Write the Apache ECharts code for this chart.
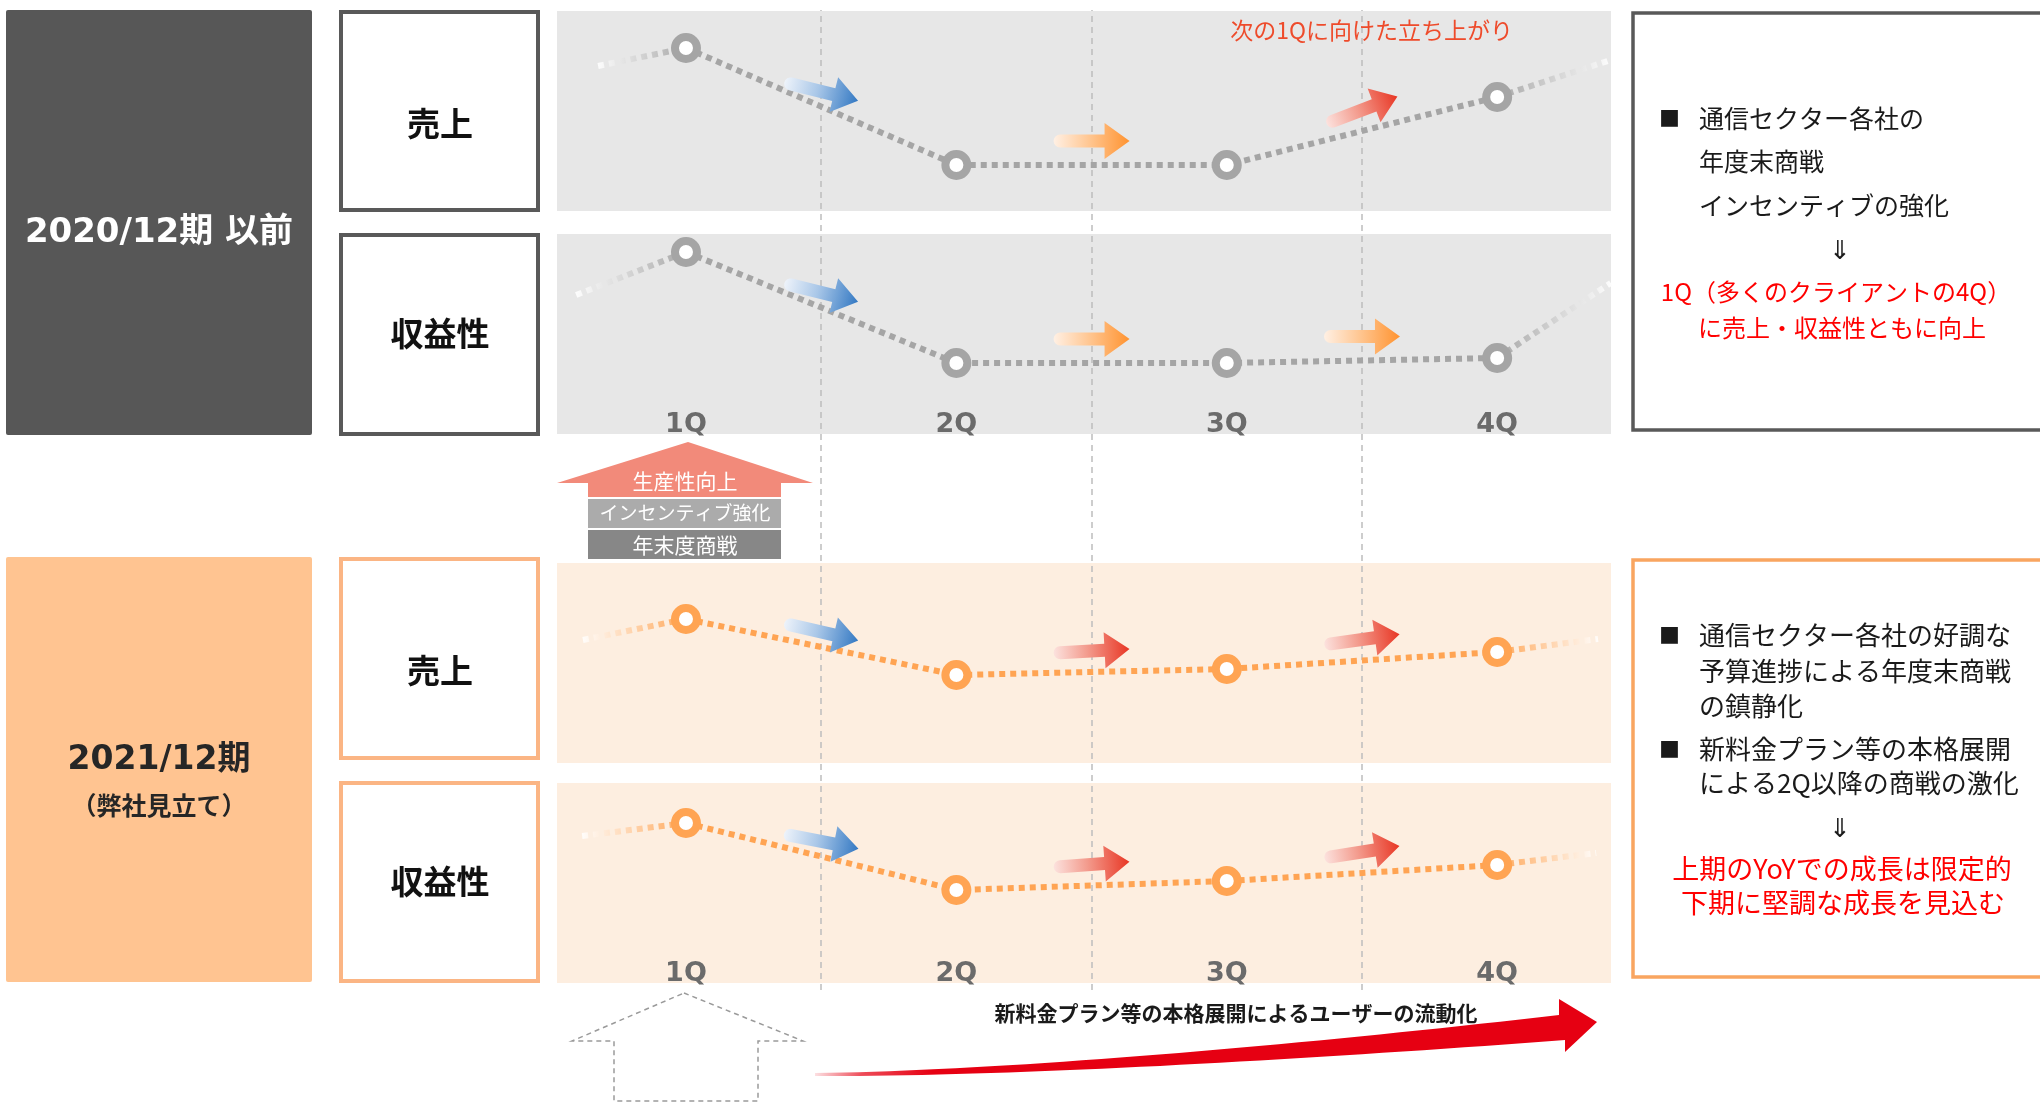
<!DOCTYPE html>
<html>
<head>
<meta charset="utf-8">
<script src="https://cdn.jsdelivr.net/npm/echarts@6/dist/echarts.min.js"></script>
<style>
  html, body { margin: 0; padding: 0; background: #ffffff; }
  #chart { width: 2040px; height: 1103px; }
</style>
</head>
<body>
<div id="chart"></div>
<script>
// ---- data ---------------------------------------------------------------
const quarters = ['1Q', '2Q', '3Q', '4Q'];

// relative level per quarter (0 = bottom of the panel, 100 = top)
const sales2020  = [81.5, 23, 23, 57];
const profit2020 = [91, 35.5, 35.5, 38];
const sales2021  = [72, 44, 47, 55.5];
const profit2021 = [80, 46.5, 51, 59];

// level carried in from the previous 4Q and handed on to the next 1Q
const sales2020Edges  = [72.5, 75.5];
const profit2020Edges = [69.5, 75.5];
const sales2021Edges  = [61.5, 62];
const profit2021Edges = [73.5, 65];

// where those carried levels sit on the quarter scale
const sales2020EdgeX  = [0.675, 4.42];
const profit2020EdgeX = [0.594, 4.42];
const sales2021EdgeX  = [0.619, 4.373];
const profit2021EdgeX = [0.616, 4.366];

// direction of each quarter-to-quarter step
const sales2020Trend  = ['down', 'flat', 'up'];
const profit2020Trend = ['down', 'flat', 'flat'];
const sales2021Trend  = ['down', 'up', 'up'];
const profit2021Trend = ['down', 'up', 'up'];

// ---- styling ------------------------------------------------------------
const JP = "'Noto Sans CJK JP', 'Noto Sans', sans-serif";
const LATIN = "'DejaVu Sans', 'Noto Sans CJK JP', sans-serif";
const X_MIN = 0.523, X_MAX = 4.421;
const PANEL_LEFT = 557, PANEL_WIDTH = 1054, PANEL_HEIGHT = 200;

// tilt of each trend arrow, degrees (positive = pointing upward)
const ARROW_TILT = {
  sales2020:  [-14, 0, 21],
  profit2020: [-14, 0, 0],
  sales2021:  [-13, 3, 8],
  profit2021: [-11, 4, 9]
};
const ARROW_STYLE = {
  down: { lift: 15, stops: [{ offset: 0, color: '#EEF3FA' }, { offset: 0.45, color: '#A9C7E8' }, { offset: 1, color: '#3479C3' }] },
  flat: { lift: 24, stops: [{ offset: 0, color: '#FFF0E4' }, { offset: 0.45, color: '#FFC895' }, { offset: 1, color: '#FF9330' }] },
  up:   { lift: 21, stops: [{ offset: 0, color: '#FCE2DE' }, { offset: 0.45, color: '#F39A8C' }, { offset: 1, color: '#E83624' }] }
};

const panels = [
  { key: 'sales2020',  values: sales2020,  edges: sales2020Edges,  edgeX: sales2020EdgeX,  trend: sales2020Trend,  top: 11,  bg: '#E7E7E7', color: '#A5A5A5', labels: false },
  { key: 'profit2020', values: profit2020, edges: profit2020Edges, edgeX: profit2020EdgeX, trend: profit2020Trend, top: 234, bg: '#E7E7E7', color: '#A5A5A5', labels: true },
  { key: 'sales2021',  values: sales2021,  edges: sales2021Edges,  edgeX: sales2021EdgeX,  trend: sales2021Trend,  top: 563, bg: '#FDEEE0', color: '#FFA453', labels: false },
  { key: 'profit2021', values: profit2021, edges: profit2021Edges, edgeX: profit2021EdgeX, trend: profit2021Trend, top: 783, bg: '#FDEEE0', color: '#FFA453', labels: true }
];

// block arrow outline with a rounded tail, centred on the origin, pointing right
function arrowPoints(len, shaft, head, headLen) {
  const h = len / 2, t = shaft / 2, w = head / 2;
  const pts = [[-h + t, -t], [h - headLen, -t], [h - headLen, -w], [h, 0],
               [h - headLen, w], [h - headLen, t], [-h + t, t]];
  for (let a = 1; a < 8; a++) {
    const ang = Math.PI / 2 + a * Math.PI / 8;
    pts.push([-h + t + t * Math.cos(ang), t * Math.sin(ang)]);
  }
  return pts;
}
const ARROW_SHAPE = arrowPoints(76, 13, 36, 25);

// ---- grids / axes / series ----------------------------------------------
const grid = panels.map(p => ({
  left: PANEL_LEFT, top: p.top, width: PANEL_WIDTH, height: PANEL_HEIGHT,
  show: true, backgroundColor: p.bg, borderWidth: 0
}));
grid.push({ left: PANEL_LEFT, top: 10, width: PANEL_WIDTH, height: 980, show: false });

const xAxis = panels.map((p, i) => ({
  type: 'value', gridIndex: i, min: X_MIN, max: X_MAX,
  axisLine: { show: false }, axisTick: { show: false }, splitLine: { show: false },
  axisLabel: p.labels ? {
    show: true, inside: true, margin: -4, customValues: [1, 2, 3, 4],
    formatter: v => quarters[Math.round(v) - 1],
    color: '#6B6B6B', fontSize: 27, fontWeight: 'bold', fontFamily: LATIN, lineHeight: 27
  } : { show: false }
}));
xAxis.push({ type: 'value', gridIndex: 4, min: X_MIN, max: X_MAX, show: false });

const yAxis = panels.map((p, i) => ({ type: 'value', gridIndex: i, min: 0, max: 100, show: false }));
yAxis.push({ type: 'value', gridIndex: 4, min: 0, max: 1, show: false });

const series = [];
panels.forEach((p, i) => {
  const fadeIn = new echarts.graphic.LinearGradient(0, 0, 1, 0, [
    { offset: 0, color: '#FFFFFF' }, { offset: 1, color: p.color }]);
  const fadeOut = new echarts.graphic.LinearGradient(0, 0, 1, 0, [
    { offset: 0, color: p.color }, { offset: 1, color: '#FFFFFF' }]);
  const dotted = { width: 6, type: [6, 5], cap: 'butt' };

  series.push({
    type: 'line', xAxisIndex: i, yAxisIndex: i, silent: true, z: 4, symbol: 'none',
    data: [[p.edgeX[0], p.edges[0]], [1, p.values[0]]],
    lineStyle: Object.assign({ color: fadeIn }, dotted)
  });
  series.push({
    type: 'line', xAxisIndex: i, yAxisIndex: i, silent: true, z: 4, symbol: 'none',
    data: [[4, p.values[3]], [p.edgeX[1], p.edges[1]]],
    lineStyle: Object.assign({ color: fadeOut }, dotted)
  });
  series.push({
    type: 'line', xAxisIndex: i, yAxisIndex: i, silent: true, z: 5,
    data: p.values.map((v, k) => [k + 1, v]),
    symbol: 'circle', symbolSize: 22, showSymbol: true,
    lineStyle: Object.assign({ color: p.color }, dotted),
    itemStyle: { color: '#FFFFFF', borderColor: p.color, borderWidth: 8 }
  });
  const tilt = ARROW_TILT[p.key];
  series.push({
    type: 'custom', xAxisIndex: i, yAxisIndex: i, silent: true, z: 6,
    data: p.trend.map((t, k) => [k + 1.5, (p.values[k] + p.values[k + 1]) / 2, k]),
    renderItem(params, api) {
      const k = api.value(2);
      const c = api.coord([api.value(0), api.value(1)]);
      const st = ARROW_STYLE[p.trend[k]];
      return {
        type: 'group', x: c[0], y: c[1] - st.lift, rotation: tilt[k] * Math.PI / 180,
        children: [{
          type: 'polygon', shape: { points: ARROW_SHAPE },
          style: { fill: new echarts.graphic.LinearGradient(0, 0, 1, 0, st.stops) }
        }]
      };
    }
  });
});

// quarter dividers running through all four panels
series.push({
  type: 'line', xAxisIndex: 4, yAxisIndex: 4, silent: true, z: 3,
  data: [[1, -1]], symbol: 'none', lineStyle: { opacity: 0 },
  markLine: {
    silent: true, symbol: ['none', 'none'], label: { show: false },
    lineStyle: { color: '#BDBDBD', width: 1.5, type: [6, 5] },
    data: [1.5, 2.5, 3.5].map(x => ({ xAxis: x }))
  }
});

// ---- framing boxes and annotations -------------------------------------
function rect(x, y, w, h, style, r) {
  return { type: 'rect', shape: { x, y, width: w, height: h, r: r || 0 }, style, z: 1 };
}
function text(x, y, str, opt) {
  return {
    type: 'text', x, y, z: 20,
    style: Object.assign({ text: str, fontFamily: JP, fontSize: 25, fill: '#1A1A1A',
      align: 'left', verticalAlign: 'middle' }, opt || {})
  };
}
function cubic(p0, p1, p2, p3, n) {
  const out = [];
  for (let i = 0; i <= n; i++) {
    const t = i / n, u = 1 - t;
    out.push([
      u * u * u * p0[0] + 3 * u * u * t * p1[0] + 3 * u * t * t * p2[0] + t * t * t * p3[0],
      u * u * u * p0[1] + 3 * u * u * t * p1[1] + 3 * u * t * t * p2[1] + t * t * t * p3[1]
    ]);
  }
  return out;
}
const swoosh = cubic([815, 1073], [1000, 1071], [1300, 1045], [1559, 1015], 40)
  .concat([[1559, 999], [1597, 1022], [1565, 1052]])
  .concat(cubic([1565, 1040], [1300, 1060], [1000, 1077], [815, 1076], 40));

const greyBorder = { fill: '#FFFFFF', stroke: '#595959', lineWidth: 4 };
const orangeBorder = { fill: '#FFFFFF', stroke: '#FBB584', lineWidth: 4 };
const bottomBox = { fontSize: 26 };
const redBottom = { fontSize: 27, fill: '#FF0000', align: 'center' };

const elements = [
  // period blocks
  rect(6, 10, 306, 425, { fill: '#575757' }, 2),
  text(159, 233, '2020/12期 以前', { fontFamily: LATIN, fontSize: 34, fontWeight: 'bold', fill: '#FFFFFF', align: 'center' }),
  rect(6, 557, 306, 425, { fill: '#FFC491' }, 2),
  text(159, 760, '2021/12期', { fontFamily: LATIN, fontSize: 33, fontWeight: 'bold', fill: '#262626', align: 'center' }),
  text(159, 805, '（弊社見立て）', { fontSize: 25, fontWeight: 'bold', fill: '#262626', align: 'center' }),

  // metric name boxes
  rect(341, 12, 197, 198, greyBorder),
  text(440, 123, '売上', { fontSize: 33, fontWeight: 'bold', fill: '#111111', align: 'center' }),
  rect(341, 235, 197, 199, greyBorder),
  text(440, 333, '収益性', { fontSize: 33, fontWeight: 'bold', fill: '#111111', align: 'center' }),
  rect(341, 559, 197, 199, orangeBorder),
  text(440, 670, '売上', { fontSize: 33, fontWeight: 'bold', fill: '#111111', align: 'center' }),
  rect(341, 783, 197, 198, orangeBorder),
  text(440, 881, '収益性', { fontSize: 33, fontWeight: 'bold', fill: '#111111', align: 'center' }),

  // commentary boxes
  rect(1633, 13, 500, 417, { fill: '#FFFFFF', stroke: '#595959', lineWidth: 3.5 }),
  text(1659, 118, '■', { fontSize: 21 }),
  text(1699, 118, '通信セクター各社の'),
  text(1699, 161, '年度末商戦'),
  text(1699, 205, 'インセンティブの強化'),
  text(1840, 249, '⇓', { fontSize: 26, align: 'center' }),
  text(1836, 292, '1Q（多くのクライアントの4Q）', { fontSize: 24, fill: '#FF0000', align: 'center' }),
  text(1842, 328, 'に売上・収益性ともに向上', { fontSize: 24, fill: '#FF0000', align: 'center' }),

  rect(1633, 560, 500, 417, { fill: '#FFFFFF', stroke: '#F9A560', lineWidth: 3.5 }),
  text(1659, 635, '■', { fontSize: 21 }),
  text(1699, 635, '通信セクター各社の好調な', bottomBox),
  text(1699, 671, '予算進捗による年度末商戦', bottomBox),
  text(1699, 706, 'の鎮静化', bottomBox),
  text(1659, 749, '■', { fontSize: 21 }),
  text(1699, 749, '新料金プラン等の本格展開', bottomBox),
  text(1699, 783, 'による2Q以降の商戦の激化', bottomBox),
  text(1840, 827, '⇓', { fontSize: 26, align: 'center' }),
  text(1842, 869, '上期のYoYでの成長は限定的', redBottom),
  text(1843, 903, '下期に堅調な成長を見込む', redBottom),

  // note above the 2020 sales panel
  text(1513, 30, '次の1Qに向けた立ち上がり', { fontSize: 23, fill: '#EE4B2B', align: 'right' }),

  // drivers of the 1Q lift
  { type: 'polygon', z: 8, shape: { points: [[688, 442], [813, 483], [781, 483], [781, 497], [588, 497], [588, 483], [557, 483]] },
    style: { fill: '#F28A7A' } },
  text(685, 481, '生産性向上', { fontSize: 21, fill: '#FFFFFF', align: 'center' }),
  Object.assign(rect(588, 499, 193, 29, { fill: '#ABABAB' }), { z: 8 }),
  text(685, 513, 'インセンティブ強化', { fontSize: 19, fill: '#FFFFFF', align: 'center' }),
  Object.assign(rect(588, 530, 193, 29, { fill: '#878787' }), { z: 8 }),
  text(685, 545, '年末度商戦', { fontSize: 21, fill: '#FFFFFF', align: 'center' }),

  // empty driver outline for 2021
  { type: 'polygon', z: 8, shape: { points: [[684, 993], [803, 1041], [758, 1041], [758, 1101], [614, 1101], [614, 1041], [572, 1041]] },
    style: { fill: 'none', stroke: '#9A9A9A', lineWidth: 1.5, lineDash: [5, 4] } },

  // user churn arrow
  { type: 'polygon', z: 8, shape: { points: swoosh },
    style: { fill: new echarts.graphic.LinearGradient(0, 0, 1, 0, [
      { offset: 0, color: 'rgba(230,0,18,0.12)' }, { offset: 0.06, color: 'rgba(230,0,18,0.7)' },
      { offset: 0.15, color: '#E60012' }, { offset: 1, color: '#E60012' }]) } },
  text(1236, 1013, '新料金プラン等の本格展開によるユーザーの流動化', { fontSize: 21, fontWeight: 'bold', align: 'center' })
];

const chart = echarts.init(document.getElementById('chart'), null, { renderer: 'canvas' });
chart.setOption({
  animation: false,
  backgroundColor: '#FFFFFF',
  grid, xAxis, yAxis, series,
  graphic: { elements }
});
</script>
</body>
</html>
